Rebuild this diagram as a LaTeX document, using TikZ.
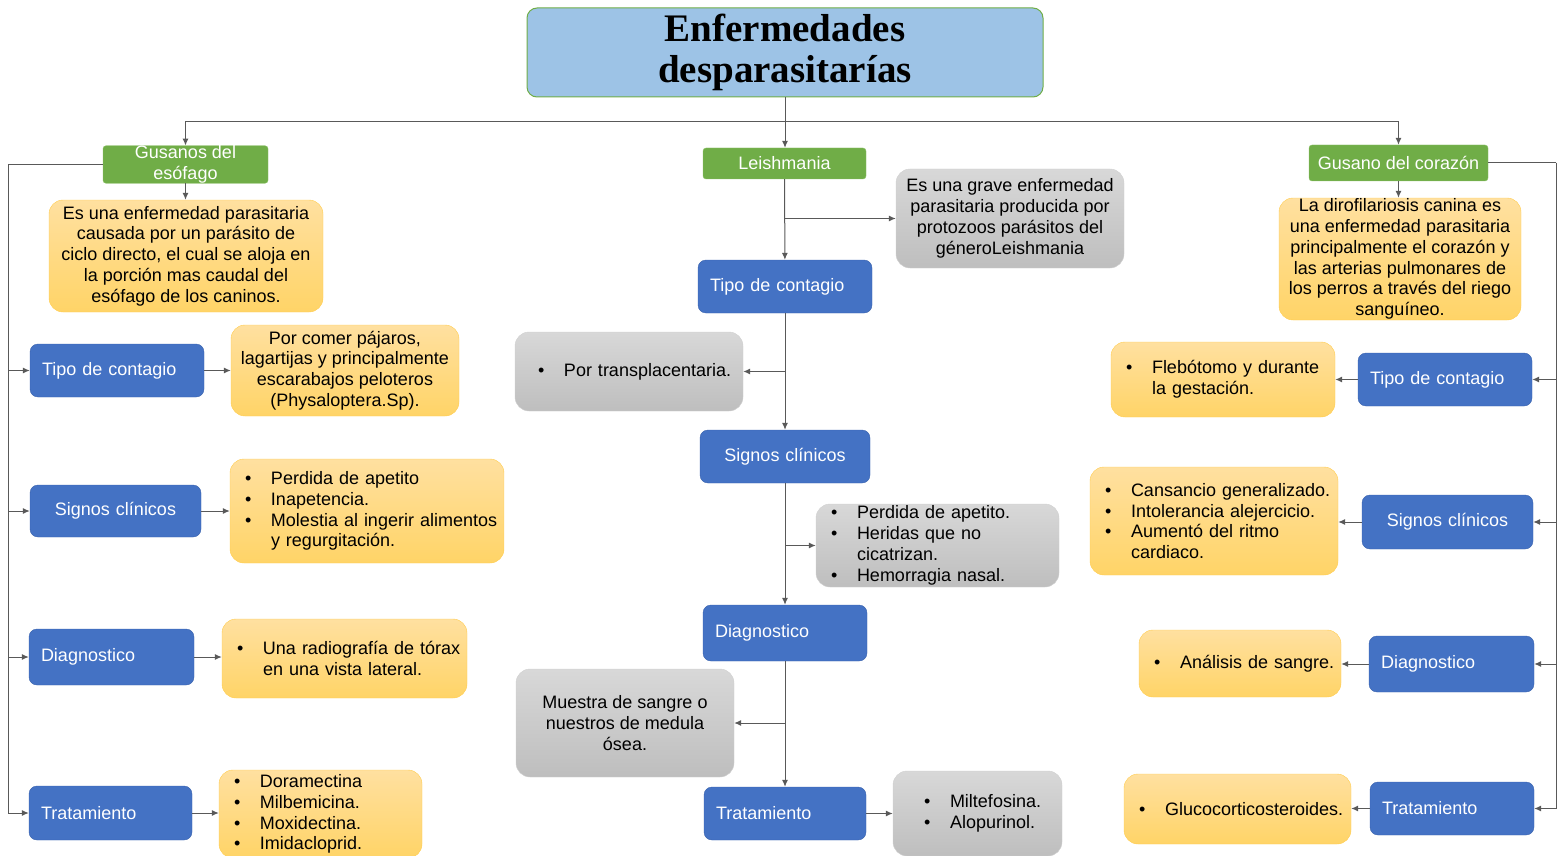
\documentclass[tikz,border=0pt]{standalone}
\usepackage{fontspec}
\setmainfont{Liberation Sans}
\newfontfamily\titlefont{Liberation Serif}
\usetikzlibrary{arrows.meta}

\definecolor{azul}{HTML}{4472C4}
\definecolor{azulborde}{HTML}{3A62AD}
\definecolor{verde}{HTML}{70AD47}
\definecolor{verdeborde}{HTML}{8CC168}
\definecolor{celeste}{HTML}{9DC3E6}
\definecolor{amarilloA}{HTML}{FFE0A0}
\definecolor{amarilloB}{HTML}{FFD467}
\definecolor{amarilloborde}{HTML}{FFCC4D}
\definecolor{grisA}{HTML}{D8D8D8}
\definecolor{grisB}{HTML}{BEBEBE}
\definecolor{grisborde}{HTML}{D0D0D0}
\definecolor{linea}{HTML}{595959}

% bullet line and its continuation
\newcommand{\bitem}[1]{\hspace*{7pt}\makebox[26pt][l]{\textbullet}\mbox{#1}}
\newcommand{\bcont}[1]{\hspace*{33pt}\mbox{#1}}

\begin{document}
\begin{tikzpicture}[x=1pt, y=-1pt]
    \tikzstyle{box}=[rectangle, inner ysep=0pt, font=\fontsize{18}{20.8}\selectfont]
    \tikzstyle{title box}=[box, rounded corners=10pt, fill=celeste, draw=verde, line width=1pt, font=\titlefont\bfseries\fontsize{39}{41}\selectfont, align=center, minimum width=516, minimum height=89]
    \tikzstyle{head}=[box, rounded corners=3pt, fill=verde, draw=verdeborde, text=white, align=center, inner xsep=4pt]
    \tikzstyle{item}=[box, rounded corners=8pt, fill=azul, draw=azulborde, text=white, align=left, inner xsep=12pt]
    \tikzstyle{note}=[box, rounded corners=14pt, top color=amarilloA, bottom color=amarilloB, draw=amarilloborde, inner xsep=8pt]
    \tikzstyle{grey note}=[note, top color=grisA, bottom color=grisB, draw=grisborde]
    \tikzstyle{conn}=[draw=linea, line width=1pt, -{Latex[length=7pt,width=6pt]}]

    \useasboundingbox (0,0) rectangle (1567,856);

    % Title and the three diseases
    \node[title box] (title) at (785,52.5) {Enfermedades\\desparasitarías};
    \node[head, minimum width=165, minimum height=37] (esof) at (185.5,164.5) {Gusanos del\\esófago};
    \node[head, minimum width=163, minimum height=31] (leish) at (784.5,163.5) {Leishmania};
    \node[head, minimum width=179, minimum height=36] (coraz) at (1398.5,163) {Gusano del corazón};

    % Left column
    \node[note, minimum width=274, minimum height=112, align=center] (esof-desc) at (186,256) {Es una enfermedad parasitaria\\causada por un parásito de\\ciclo directo, el cual se aloja en\\la porción mas caudal del\\esófago de los caninos.};
    \node[item, text width=150pt, minimum height=53] (l-tipo) at (117,370.5) {Tipo de contagio};
    \node[note, minimum width=228, minimum height=91, align=center] (l-tipo-t) at (345,370.5) {Por comer pájaros,\\lagartijas y principalmente\\escarabajos peloteros\\(Physaloptera.Sp).};
    \node[item, text width=147pt, minimum height=52, align=center] (l-sig) at (115.5,511) {Signos clínicos};
    \node[note, text width=258pt, minimum height=104, align=left] (l-sig-t) at (367,511) {\bitem{Perdida de apetito}\\\bitem{Inapetencia.}\\\bitem{Molestia al ingerir alimentos}\\\bcont{y regurgitación.}};
    \node[item, text width=141pt, minimum height=56] (l-diag) at (111.5,657) {Diagnostico};
    \node[note, text width=229pt, minimum height=79, align=left] (l-diag-t) at (344.5,658.5) {\bitem{Una radiografía de tórax}\\\bcont{en una vista lateral.}};
    \node[item, text width=139pt, minimum height=54] (l-trat) at (110.5,813) {Tratamiento};
    \node[note, text width=187pt, minimum height=88, align=left] (l-trat-t) at (320.5,814) {\bitem{Doramectina}\\\bitem{Milbemicina.}\\\bitem{Moxidectina.}\\\bitem{Imidacloprid.}};

    % Middle column
    \node[grey note, minimum width=228, minimum height=99, align=center] (c-desc) at (1010,218.5) {Es una grave enfermedad\\parasitaria producida por\\protozoos parásitos del\\géneroLeishmania};
    \node[item, text width=150pt, minimum height=53] (c-tipo) at (785,286.5) {Tipo de contagio};
    \node[grey note, text width=212pt, minimum height=79, align=left] (c-tipo-t) at (629,371.5) {\hspace*{8pt}\bitem{Por transplacentaria.}};
    \node[item, text width=146pt, minimum height=53, align=center] (c-sig) at (785,456.5) {Signos clínicos};
    \node[grey note, text width=227pt, minimum height=83, align=left] (c-sig-t) at (937.5,545.5) {\bitem{Perdida de apetito.}\\\bitem{Heridas que no}\\\bcont{cicatrizan.}\\\bitem{Hemorragia nasal.}};
    \node[item, text width=140pt, minimum height=56] (c-diag) at (785,633) {Diagnostico};
    \node[grey note, minimum width=218, minimum height=108, align=center] (c-diag-t) at (625,723) {Muestra de sangre o\\nuestros de medula\\ósea.};
    \node[item, text width=138pt, minimum height=53] (c-trat) at (785,813.5) {Tratamiento};
    \node[grey note, text width=153pt, minimum height=85, align=left] (c-trat-t) at (977.5,813.5) {\hspace*{16pt}\bitem{Miltefosina.}\\\hspace*{16pt}\bitem{Alopurinol.}};

    % Right column
    \node[note, minimum width=242, minimum height=122, align=center] (r-desc) at (1400,259) {La dirofilariosis canina es\\una enfermedad parasitaria\\principalmente el corazón y\\las arterias pulmonares de\\los perros a través del riego\\sanguíneo.};
    \node[item, text width=150pt, minimum height=53] (r-tipo) at (1445,379.5) {Tipo de contagio};
    \node[note, text width=208pt, minimum height=75, align=left] (r-tipo-t) at (1223,379.5) {\bitem{Flebótomo y durante}\\\bcont{la gestación.}};
    \node[item, text width=147pt, minimum height=54, align=center] (r-sig) at (1447.5,522) {Signos clínicos};
    \node[note, text width=232pt, minimum height=108, align=left] (r-sig-t) at (1214,521) {\bitem{Cansancio generalizado.}\\\bitem{Intolerancia alejercicio.}\\\bitem{Aumentó del ritmo}\\\bcont{cardiaco.}};
    \node[item, text width=141pt, minimum height=56] (r-diag) at (1451.5,664) {Diagnostico};
    \node[note, text width=186pt, minimum height=67, align=left] (r-diag-t) at (1240,663.5) {\bitem{Análisis de sangre.}};
    \node[item, text width=140pt, minimum height=53] (r-trat) at (1452,808.5) {Tratamiento};
    \node[note, text width=211pt, minimum height=70, align=left] (r-trat-t) at (1237.5,809) {\bitem{Glucocorticosteroides.}};

    % Title to the diseases
    \coordinate (split) at (785,122);
    \draw[conn] (title.south) -- (title.south |- leish.north);
    \foreach \h in {esof,coraz}
        \draw[conn] (split) -| (\h);
    \draw[conn] (esof.south) -- (esof.south |- esof-desc.north);
    \draw[conn] (coraz.south) -- (coraz.south |- r-desc.north);

    % Left trunk
    \coordinate (lt) at (8,164.5);
    \draw[conn, -] (esof.west) -- (lt);
    \foreach \b in {l-tipo,l-sig,l-diag,l-trat} {
        \draw[conn] (lt) |- (\b.west);
        \draw[conn] (\b.east) -- (\b.east -| \b-t.west);
    }

    % Middle chain
    \foreach \a/\b in {leish/c-tipo,c-tipo/c-sig,c-sig/c-diag,c-diag/c-trat}
        \draw[conn] (\a) -- (\b);
    \draw[conn] (leish.south |- c-desc) -- (c-desc);
    \foreach \b in {c-tipo,c-sig,c-diag}
        \draw[conn] (\b.south |- \b-t) -- (\b-t);
    \draw[conn] (c-trat) -- (c-trat-t);

    % Right trunk
    \coordinate (rt) at (1556,163);
    \draw[conn, -] (coraz.east) -- (rt);
    \foreach \b in {r-tipo,r-sig,r-diag,r-trat} {
        \draw[conn] (rt) |- (\b.east);
        \draw[conn] (\b.west) -- (\b.west -| \b-t.east);
    }
\end{tikzpicture}
\end{document}
